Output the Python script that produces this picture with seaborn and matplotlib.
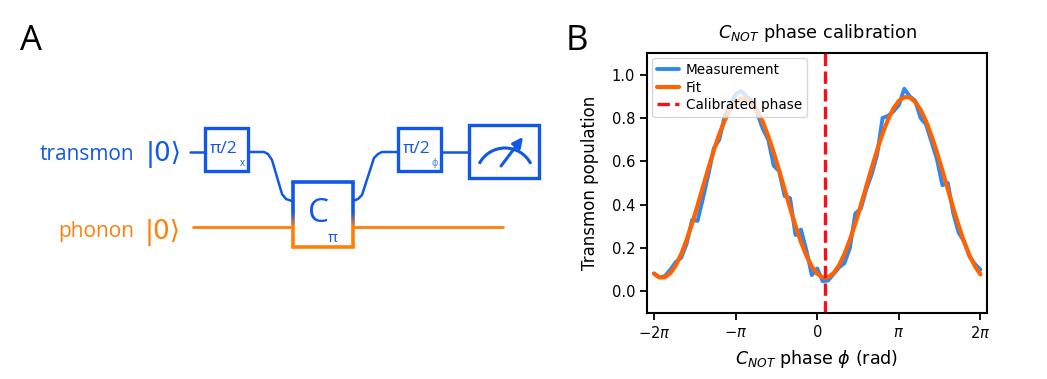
import numpy as np
import pandas as pd
import matplotlib
matplotlib.use("Agg")
import matplotlib.pyplot as plt
from matplotlib.patches import Rectangle, Arc
import seaborn as sns

sns.set_style("ticks")
plt.rcParams['font.family'] = ['DejaVu Sans']
plt.rcParams['text.color'] = 'black'

# scan grid, in units of pi / 15
phase_steps = np.arange(-30, 31)

measurement = [.083, .065, .07, .10, .135, .155, .22, .33, .325, .43,
               .54, .66, .70, .81, .86, .91, .925, .90, .88, .82,
               .75, .70, .58, .555, .44, .43, .26, .285, .19, .075,
               .105, .047, .05, .08, .11, .13, .20, .36, .38, .47,
               .54, .63, .80, .81, .83, .86, .935, .90, .88, .80,
               .77, .69, .61, .49, .50, .36, .27, .23, .16, .125, .10]
fit = [.081, .064, .065, .084, .120, .172, .238, .313, .396, .483,
       .569, .651, .726, .789, .839, .873, .890, .889, .870, .833,
       .782, .716, .641, .558, .471, .385, .303, .228, .165, .115,
       .081, .064, .065, .084, .120, .172, .238, .313, .396, .483,
       .569, .651, .728, .792, .844, .879, .896, .895, .875, .838,
       .785, .718, .642, .558, .471, .385, .303, .228, .165, .115, .078]
calibrated_phase = 0.30

x_ticks = [-2 * np.pi, -np.pi, 0, np.pi, 2 * np.pi]
x_labels = ["$-2\\pi$", "$-\\pi$", "0", "$\\pi$", "$2\\pi$"]
y_ticks = [0.0, 0.2, 0.4, 0.6, 0.8, 1.0]

BLUE = "#1158e8"
ORANGE = "#ff8008"

W, H = 1047, 379
fig = plt.figure(figsize=(W / 100, H / 100), dpi=100)

# panel B
ax = fig.add_axes([647 / W, 1 - 313 / H, 340 / W, 260 / H])
df = pd.DataFrame({"phase": phase_steps * np.pi / 15, "measurement": measurement, "fit": fit})
sns.lineplot(data=df, x="phase", y="measurement", ax=ax, color="#2f88f0", lw=2.8, label="Measurement")
sns.lineplot(data=df, x="phase", y="fit", ax=ax, color="#ff6200", lw=3, label="Fit")
ax.axvline(calibrated_phase, color="#f5101c", ls="--", lw=2.4, label="Calibrated phase")
ax.set_xlim(-2 * np.pi * 1.043, 2 * np.pi * 1.04)
ax.set_ylim(-0.1, 1.1)
ax.set_xticks(x_ticks, x_labels)
ax.set_yticks(y_ticks)
ax.tick_params(labelsize=10.5, width=1.3, length=5, color="black", labelcolor="black")
ax.set_xlabel("$C_{NOT}$ phase $\\phi$ (rad)", fontsize=12.6, color="black", labelpad=5)
ax.set_ylabel("Transmon population", fontsize=12, color="black", labelpad=9)
ax.set_title("$C_{NOT}$ phase calibration", fontsize=12.8, color="black", pad=11)
for s in ax.spines.values():
    s.set_linewidth(1.5)
    s.set_color("black")
ax.legend(loc="upper left", fontsize=9.8, frameon=True, framealpha=0.8, borderaxespad=0.4,
          labelspacing=0.25, handlelength=1.6, handletextpad=0.5, borderpad=0.35)

# panel A, drawn in figure pixels
d = fig.add_axes([0, 0, 1, 1], zorder=5)
d.set_xlim(0, W)
d.set_ylim(H, 0)
d.axis("off")
d.patch.set_alpha(0)

d.text(20, 41, "A", fontsize=25, family=["Open Sans", "DejaVu Sans"], va="center", ha="left")
d.text(566, 41, "B", fontsize=25, family=["Open Sans", "DejaVu Sans"], va="center", ha="left")

txt = dict(va="center", family=["Open Sans", "DejaVu Sans"])
d.text(134, 154, "transmon", color=BLUE, fontsize=15, ha="right", **txt)
d.text(134, 232, "phonon", color=ORANGE, fontsize=15, ha="right", **txt)
d.text(146, 154, "|0⟩", color=BLUE, fontsize=19, ha="left", va="center", family="DejaVu Sans")
d.text(145, 232, "|0⟩", color=ORANGE, fontsize=19, ha="left", va="center", family="DejaVu Sans")

# wires
d.plot([190, 204], [152, 152], color=BLUE, lw=1.8)
d.plot([193, 292], [227, 227], color=ORANGE, lw=2)
d.plot([353, 503], [227, 227], color=ORANGE, lw=2)
d.plot([248, 264, 268, 272, 282, 286, 292],
       [152, 152, 154, 160, 194, 199, 201], color=BLUE, lw=1.8)
d.plot([353, 358, 362, 374, 378, 382, 397],
       [201, 199, 195, 158, 154, 152, 152], color=BLUE, lw=1.8)
d.plot([441, 468], [152, 152], color=BLUE, lw=1.8)

# gates
for x0, x1, y0, y1 in [(205, 248, 128, 171), (398, 441, 128, 171), (469, 539, 125, 178)]:
    d.add_patch(Rectangle((x0, y0), x1 - x0, y1 - y0, fc="white", ec=BLUE, lw=2.4))

# C gate, blue on top fading to orange below
d.add_patch(Rectangle((293, 182), 60, 65, fc="white", ec="none"))
d.plot([293, 353], [182, 182], color=BLUE, lw=2.6, solid_capstyle="projecting")
d.plot([293, 353], [247, 247], color=ORANGE, lw=2.6, solid_capstyle="projecting")
blue_rgb = np.array(matplotlib.colors.to_rgb(BLUE))
orange_rgb = np.array(matplotlib.colors.to_rgb(ORANGE))
for y in range(182, 247):
    t = min(max((y - 212) / 14, 0), 1)
    col = blue_rgb * (1 - t) + orange_rgb * t
    d.plot([293, 293], [y, y + 1], color=col, lw=2.6, solid_capstyle="butt")
    d.plot([353, 353], [y, y + 1], color=col, lw=2.6, solid_capstyle="butt")

d.text(224, 149, "π/2", color=BLUE, fontsize=12.5, ha="center", **txt)
d.text(242, 164, "x", color=BLUE, fontsize=7, ha="center", **txt)
d.text(417, 149, "π/2", color=BLUE, fontsize=12.5, ha="center", **txt)
d.text(435, 164, "ϕ", color=BLUE, fontsize=7, ha="center", alpha=.7, **txt)
d.text(318, 214, "C", color=BLUE, fontsize=24, ha="center", **txt)
d.text(333, 238, "π", color=BLUE, fontsize=11, ha="center", **txt)

# meter
d.add_patch(Arc((505, 177), 58, 58, theta1=207, theta2=333, color=BLUE, lw=2.2))
d.annotate("", xy=(523, 137), xytext=(501, 166),
           arrowprops=dict(arrowstyle="-|>", color=BLUE, lw=2.2, mutation_scale=15, shrinkA=0, shrinkB=0))

fig.savefig("out.png", dpi=100)
